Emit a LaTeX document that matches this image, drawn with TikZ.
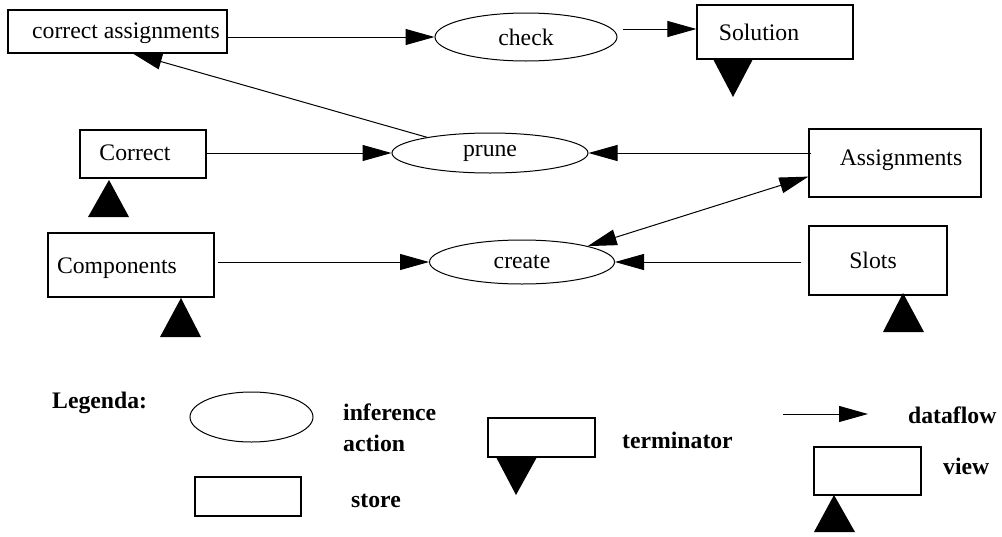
\documentclass[tikz,border=0pt]{standalone}
\usepackage{fontspec}
\setmainfont{Liberation Serif}
\usetikzlibrary{arrows.meta,shapes.geometric,calc}
\begin{document}
\begin{tikzpicture}[x=1pt,y=-1pt,
  every node/.style={font=\fontsize{23.7}{28}\selectfont},
  box/.style={draw,line width=1.2pt,rectangle,inner sep=0pt},
  act/.style={draw,line width=1pt,ellipse,inner sep=0pt},
  lbl/.style={inner sep=0pt,anchor=base},
  leg/.style={inner sep=0pt,anchor=base west,font=\fontsize{23.7}{28}\selectfont\bfseries},
  flow/.style={line width=1pt,-{Triangle[length=29pt,width=16pt]}},
  flowboth/.style={line width=1pt,{Triangle[length=29pt,width=16pt]}-{Triangle[length=29pt,width=16pt]}},
  tri/.style={fill=black}
]
\useasboundingbox (0,0) rectangle (1002,536);

% stores / views / terminators
\node[box,minimum width=219pt,minimum height=43pt] (ca) at (117.5,31.5) {};
\node[lbl] (tca) at (126,38) {correct assignments};
\node[box,minimum width=156pt,minimum height=54pt] (sol) at (775,32) {};
\node[lbl] (tsol) at (759,40) {Solution};
\node[box,minimum width=126pt,minimum height=48pt] (cor) at (143,154) {};
\node[lbl] (tcor) at (135,160) {Correct};
\node[box,minimum width=172pt,minimum height=68pt] (asg) at (895,163) {};
\node[lbl] (tasg) at (901,165) {Assignments};
\node[box,minimum width=166pt,minimum height=64pt] (comp) at (131,265) {};
\node[lbl] (tcomp) at (117,273) {Components};
\node[box,minimum width=138pt,minimum height=69pt] (slots) at (878,260.5) {};
\node[lbl] (tslots) at (873,268) {Slots};

% inference actions
\node[act,minimum width=182pt,minimum height=48pt] (check) at (526,37) {check};
\node[act,minimum width=196pt,minimum height=40pt] (prune) at (490,153) {prune};
\node[act,minimum width=185pt,minimum height=44pt] (create) at (522,262) {create};

% triangles (terminator / view markers)
\fill[tri] (713,59) -- (753,59) -- (733,97) -- cycle;
\fill[tri] (88,217) -- (129,217) -- (109,180) -- cycle;
\fill[tri] (160,337) -- (201,337) -- (181,298) -- cycle;
\fill[tri] (883,332) -- (924,332) -- (903,293) -- cycle;

% dataflows
\draw[flow] (ca.east |- check.west) -- (check.west);
\coordinate (chkout) at ($(check.east)+(5,-8)$);
\draw[flow] (chkout) -- (chkout -| sol.west);
\draw[flow] (prune.166) -- ([xshift=15.5pt]ca.south);
\draw[flow] (cor.east |- prune.west) -- (prune.west);
\draw[flow] ([xshift=3pt]asg.west |- prune.east) -- (prune.east);
\draw[flowboth] (create.north east) -- ([yshift=21pt]asg.south west);
\draw[flow] ([xshift=3pt]comp.east |- create.west) -- (create.west);
\draw[flow] ([xshift=-7pt]slots.west |- create.east) -- (create.east);

% legend
\node[leg] (tleg) at (52,408) {Legenda:};
\node[act,minimum width=123pt,minimum height=50pt] (lact) at (251.5,417) {};
\node[leg] (tinf) at (343,420) {inference};
\node[leg] (tact) at (343,451) {action};
\node[box,minimum width=106pt,minimum height=39pt] (lstore) at (248,496.5) {};
\node[leg] (tstore) at (351,507) {store};
\node[box,minimum width=107pt,minimum height=39pt] (lterm) at (541.5,437.5) {};
\fill[tri] (496,457) -- (537,457) -- (516,495) -- cycle;
\node[leg] (tterm) at (622,448) {terminator};
\coordinate (df1) at (783,414);
\coordinate (df2) at (868,414);
\draw[flow] (df1) -- (df2);
\node[leg] (tdf) at (908,423) {dataflow};
\node[box,minimum width=107pt,minimum height=48pt] (lview) at (867.5,471) {};
\fill[tri] (814,532) -- (855,532) -- (834,495) -- cycle;
\node[leg] (tview) at (943,474) {view};
\end{tikzpicture}
\end{document}
